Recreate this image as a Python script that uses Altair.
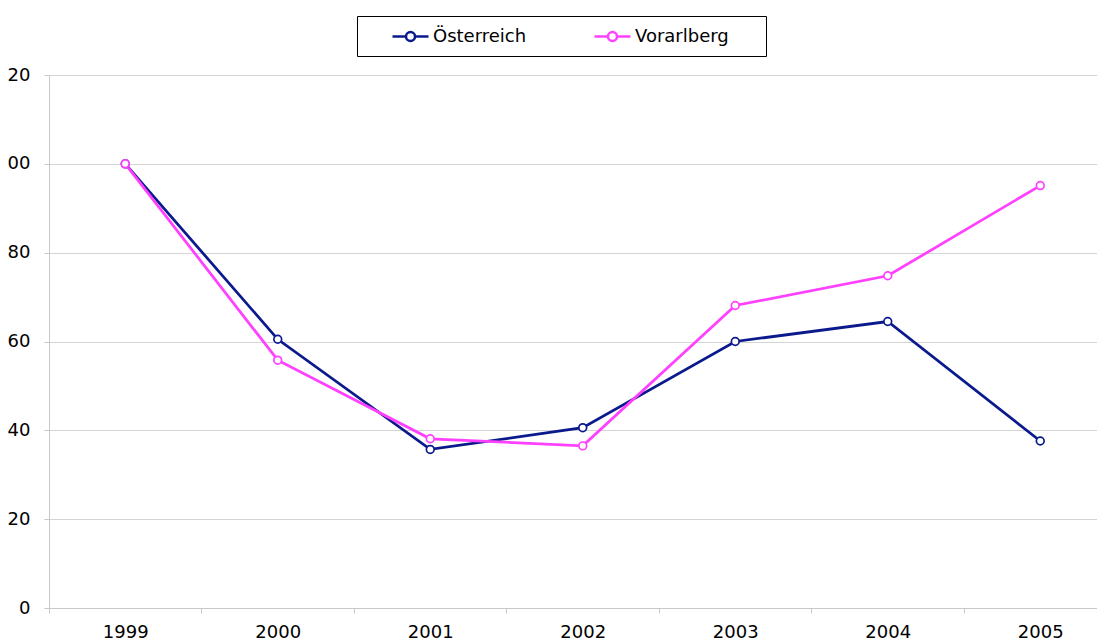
import altair as alt
import pandas as pd

years = [1999, 2000, 2001, 2002, 2003, 2004, 2005]
oesterreich = [100, 60.5, 35.7, 40.6, 60.0, 64.5, 37.6]
vorarlberg = [100, 55.8, 38.1, 36.5, 68.1, 74.8, 95.1]
series = ["Österreich", "Vorarlberg"]
colors = ["#0A1A8C", "#FF40FF"]
y_ticks = [0, 20, 40, 60, 80, 100, 120]
x_ticks = [1998.5, 1999, 1999.5, 2000, 2000.5, 2001, 2001.5, 2002, 2002.5,
           2003, 2003.5, 2004, 2004.5, 2005]

rows = []
for name, vals in zip(series, [oesterreich, vorarlberg]):
    for yr, v in zip(years, vals):
        rows.append({"Jahr": yr, "Wert": v, "Reihe": name})
df = pd.DataFrame(rows)

FONT = "DejaVu Sans"
LEFT, TOP = 41, 67
W, H = 1089 - LEFT, 533
BAND = 152.5

legend_path = ("M-2,0L-0.5,0M0.5,0L2,0"
               "M-0.5,0A0.5,0.5 0 1,1 0.5,0A0.5,0.5 0 1,1 -0.5,0Z")

chart = alt.Chart(df).mark_line(
    strokeWidth=2.75,
    point=alt.OverlayMarkDef(filled=False, fill="white", size=60, strokeWidth=1.7),
).encode(
    x=alt.X("Jahr:Q",
            scale=alt.Scale(domain=[1998.5, 1998.5 + W / BAND], nice=False, zero=False),
            axis=alt.Axis(values=x_ticks, title=None, grid=False,
                          labelExpr="datum.value % 1 == 0 ? format(datum.value, 'd') : ''",
                          tickOpacity={"condition": {"test": "datum.value % 1 == 0", "value": 0}, "value": 1},
                          tickSize=5, labelPadding=10, labelOverlap=False, labelFlush=False,
                          labelBound=False)),
    y=alt.Y("Wert:Q",
            scale=alt.Scale(domain=[0, 120], nice=False),
            axis=alt.Axis(values=y_ticks, title=None, format="d", tickSize=5,
                          labelPadding=14, labelOverlap=False)),
    color=alt.Color("Reihe:N",
                    scale=alt.Scale(domain=series, range=colors),
                    legend=alt.Legend(title=" ", titleOrient="right", titlePadding=27,
                                      titleFont=FONT, titleFontSize=18,
                                      orient="none", direction="horizontal",
                                      legendX=308, legendY=-59,
                                      symbolType=legend_path, symbolSize=324,
                                      symbolStrokeWidth=2.5, symbolFillColor="white",
                                      symbolOffset=33,
                                      labelFont=FONT, labelFontSize=18, labelColor="black",
                                      labelOffset=12, columnPadding=42,
                                      padding=10, strokeColor="black", fillColor="white")),
    order=alt.Order("Jahr:Q"),
).properties(
    width=W, height=H,
    autosize=alt.AutoSizeParams(type="none"),
    padding={"left": LEFT, "top": TOP, "right": 0, "bottom": 31},
).configure_view(stroke=None).configure_axis(
    labelFont=FONT, labelFontSize=18, labelColor="black",
    domainColor="#c8c8c8", tickColor="#c8c8c8", gridColor="#d4d4d4",
    domainWidth=1, gridWidth=1, tickWidth=1,
)

chart.save("out.html", embed_options={"renderer": "svg", "actions": False})
